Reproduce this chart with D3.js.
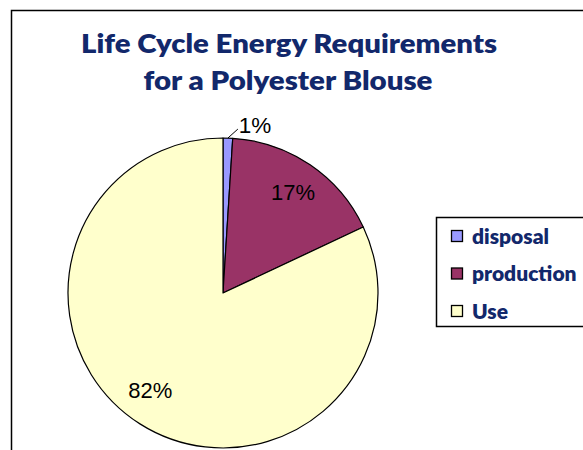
<!DOCTYPE html>
<html>
<head>
<meta charset="utf-8">
<script src="https://cdn.jsdelivr.net/npm/d3@7/dist/d3.min.js"></script>
<style>
html,body{margin:0;padding:0;background:#fff;}
svg{display:block;}
</style>
</head>
<body>
<svg id="chart" width="583" height="450"></svg>
<script>
const categories = ["disposal", "production", "Use"];
const values = [1, 17, 82];
const pctLabels = ["1%", "17%", "82%"];
const colors = ["#9999FF", "#993366", "#FFFFCC"];
const titleLines = ["Life Cycle Energy Requirements", "for a Polyester Blouse"];

const svg = d3.select("#chart");

// frame
svg.append("rect").attr("x", 11.5).attr("y", 10.5).attr("width", 620).attr("height", 500)
  .attr("fill", "#fff").attr("stroke", "#000").attr("stroke-width", 1.5);

// title
const titleColor = "#12286B";
const titleFont = "Lato, 'Open Sans', sans-serif";
svg.append("text").attr("x", 289).attr("y", 53)
  .attr("text-anchor", "middle").attr("font-family", titleFont)
  .attr("font-weight", 800).attr("font-size", 26.5).attr("fill", titleColor)
  .attr("textLength", 416).attr("lengthAdjust", "spacingAndGlyphs")
  .text(titleLines[0]);
svg.append("text").attr("x", 288).attr("y", 90)
  .attr("text-anchor", "middle").attr("font-family", titleFont)
  .attr("font-weight", 800).attr("font-size", 26.5).attr("fill", titleColor)
  .attr("textLength", 289).attr("lengthAdjust", "spacingAndGlyphs")
  .text(titleLines[1]);

// pie
const cx = 223, cy = 293, R = 155;
const pie = d3.pie().sort(null).value(d => d)(values);
const arc = d3.arc().innerRadius(0).outerRadius(R);
const g = svg.append("g").attr("transform", `translate(${cx},${cy})`);
g.selectAll("path.slice").data(pie).join("path")
  .attr("class", "slice")
  .attr("d", arc)
  .attr("fill", (d, i) => colors[i])
  .attr("stroke", "#000").attr("stroke-width", 1.2).attr("stroke-linejoin", "round");

const labelArc = d3.arc().innerRadius(121).outerRadius(121);
const labelFont = "'Liberation Sans', Arial, sans-serif";
pie.forEach((d, i) => {
  if (i === 0) {
    const a = (d.startAngle + d.endAngle) / 2;
    const x0 = Math.sin(a) * R, y0 = -Math.cos(a) * R;
    const x1 = x0 + 10, y1 = y0 - 9;
    g.append("line").attr("x1", x0).attr("y1", y0).attr("x2", x1).attr("y2", y1)
      .attr("stroke", "#000").attr("stroke-width", 1);
    g.append("text").attr("x", x1 + 1).attr("y", y1 + 4)
      .attr("font-family", labelFont).attr("font-size", 22.5).attr("fill", "#000")
      .text(pctLabels[i]);
  } else {
    let [x, y] = labelArc.centroid(d);
    if (i === 2) { x -= 8; y -= 5; }
    g.append("text").attr("x", x + (i === 1 ? 2 : 0)).attr("y", y + 7.5)
      .attr("text-anchor", "middle")
      .attr("font-family", labelFont).attr("font-size", 22).attr("fill", "#000")
      .text(pctLabels[i]);
  }
});

// legend
const lg = svg.append("g");
lg.append("rect").attr("x", 436.5).attr("y", 217.5).attr("width", 200).attr("height", 109)
  .attr("fill", "#fff").attr("stroke", "#000").attr("stroke-width", 1.5);
const ly = d3.scalePoint().domain(categories).range([236, 311]);
categories.forEach((c, i) => {
  lg.append("rect").attr("x", 451.5).attr("y", ly(c) - 5.5).attr("width", 11).attr("height", 11)
    .attr("fill", colors[i]).attr("stroke", "#000").attr("stroke-width", 1.3);
  lg.append("text").attr("x", 472).attr("y", ly(c) + 7.5)
    .attr("font-family", titleFont).attr("font-weight", 800)
    .attr("font-size", 21).attr("fill", titleColor)
    .text(c);
});
</script>
</body>
</html>
